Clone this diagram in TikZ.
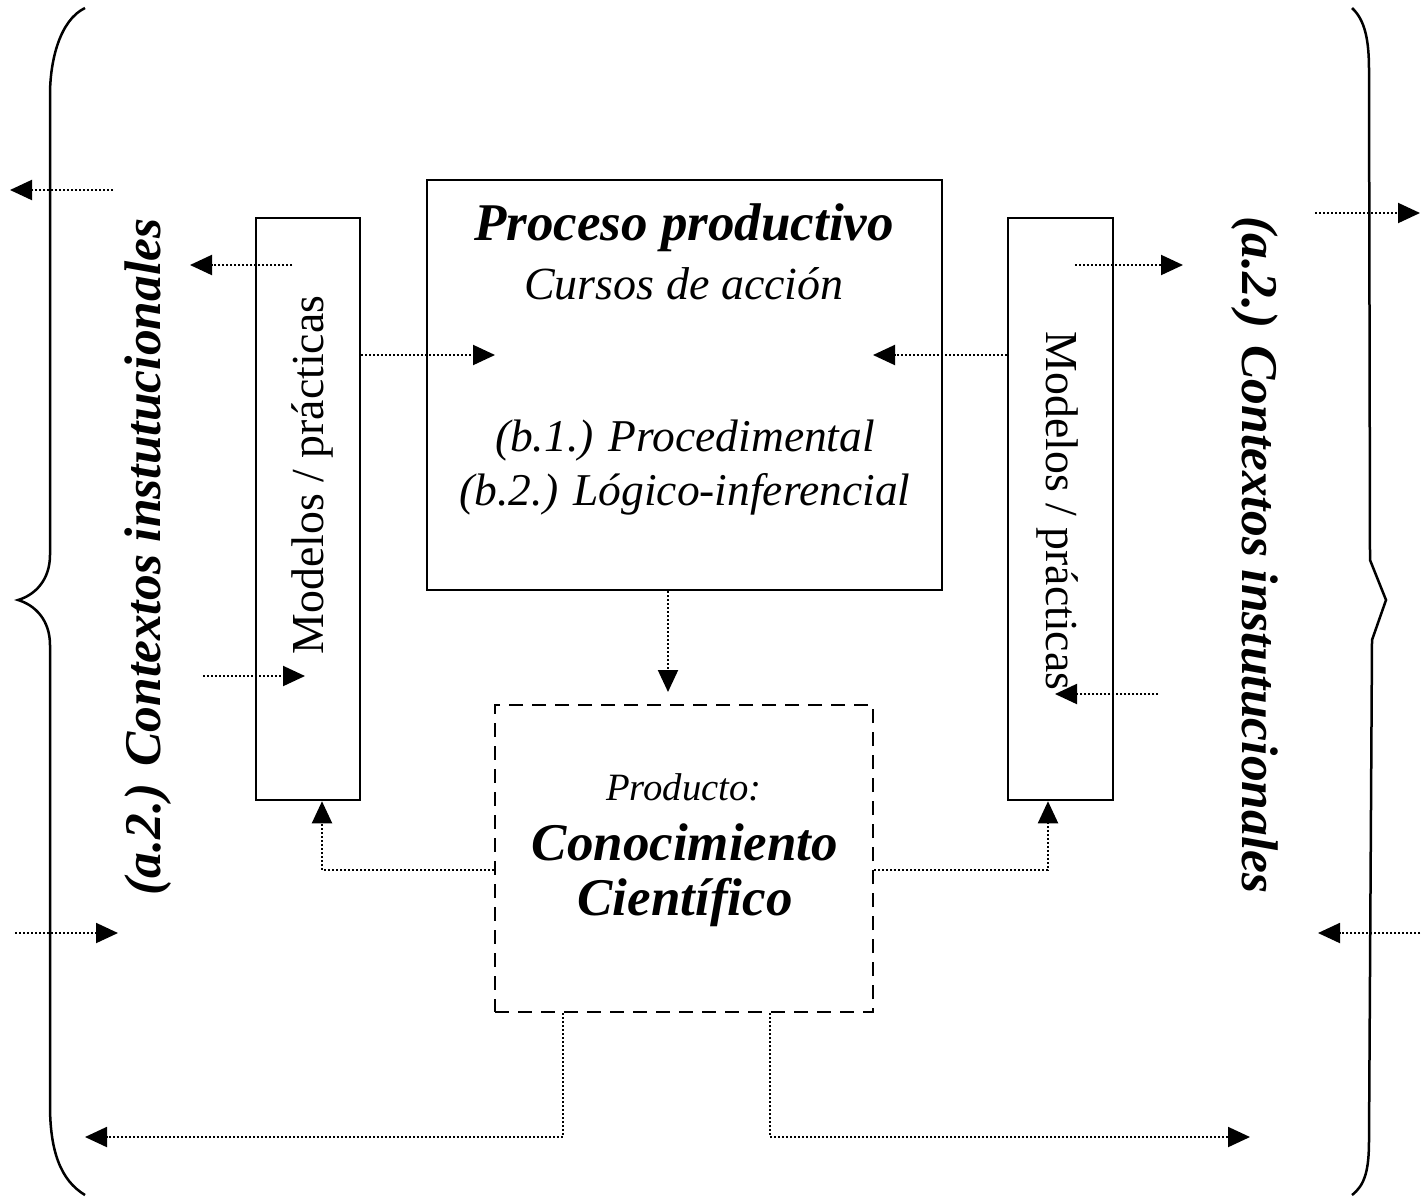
\documentclass[tikz,border=0pt]{standalone}
\usepackage{fontspec}
\setmainfont{Liberation Serif}
\usetikzlibrary{arrows.meta}
\tikzset{
  box/.style={draw, line width=2.5pt, inner sep=0pt},
  conn/.style={line width=2pt, dotted, line cap=butt},
  tip/.style={-{Triangle[length=22pt,width=20pt]}},
  brace/.style={line width=2.5pt},
  itx/.style={font=\fontsize{45.5}{50}\selectfont\itshape},
  bix/.style={font=\fontsize{53}{58}\selectfont\bfseries\itshape},
  mod/.style={font=\fontsize{45.8}{50}\selectfont},
  ctx/.style={font=\fontsize{51.5}{56}\selectfont\bfseries\itshape},
}
\begin{document}
\begin{tikzpicture}[x=1pt,y=-1pt]
\useasboundingbox (0,0) rectangle (1423,1203);
% braces
\draw[brace] (85,8) .. controls (60,20) and (50,60) .. (50,95) -- (50,555)
  .. controls (50,580) and (35,595) .. (18,600)
  .. controls (35,605) and (50,620) .. (50,645) -- (50,1105)
  .. controls (50,1150) and (60,1180) .. (85,1195);
\draw[brace] (1352,8) .. controls (1365,20) and (1369,40) .. (1369,70) -- (1370,560)
  -- (1386,600) -- (1372,640) -- (1369,1140)
  .. controls (1369,1170) and (1365,1185) .. (1352,1195);
% boxes
\node[box, minimum width=104pt, minimum height=582pt] (lbox) at (308,509) {};
\node[box, minimum width=105pt, minimum height=582pt] (rbox) at (1060.5,509) {};
\node[box, minimum width=515pt, minimum height=410pt] (pbox) at (684.5,385) {};
\node[box, dashed, dash pattern=on 14pt off 9pt, minimum width=378pt, minimum height=307pt] (prod) at (684,858.5) {};
% texts
\node[bix] (t1) at (684,228) {Proceso productivo};
\node[itx, font=\fontsize{46}{50}\selectfont\itshape] (t2) at (684,284) {Cursos de acción};
\node[itx] (t3) at (685,441) {(b.1.) Procedimental};
\node[itx] (t4) at (685,494) {(b.2.) Lógico-inferencial};
\node[font=\fontsize{38.7}{44}\selectfont\itshape] (t5) at (684,787) {Producto:};
\node[bix] (t6) at (685,842) {Conocimiento};
\node[bix] (t7) at (685,902) {Científico};
\node[mod, rotate=90] (lm) at (312,475) {Modelos / prácticas};
\node[mod, rotate=-90] (rm) at (1058,511) {Modelos / prácticas};
\node[ctx, rotate=90] (lc) at (148,557) {(a.2.) Contextos instutucionales};
\node[ctx, rotate=-90] (rc) at (1255,555) {(a.2.) Contextos instutucionales};
% coordinates for free ends
\coordinate (a1s) at (113,190); \coordinate (a1e) at (10,190);
\coordinate (a2s) at (15,933); \coordinate (a2e) at (118,933);
\coordinate (a3s) at (1315,213); \coordinate (a3e) at (1420,213);
\coordinate (a4s) at (1420,933); \coordinate (a4e) at (1318,933);
\coordinate (a5s) at (292,265); \coordinate (a5e) at (190,265);
\coordinate (a6e) at (495,355);
\coordinate (a7s) at (203,676); \coordinate (a7e) at (305,676);
\coordinate (a8e) at (873,355);
\coordinate (a9e) at (668,692);
\coordinate (a10s) at (1075,265); \coordinate (a10e) at (1183,265);
\coordinate (a11s) at (1158,694); \coordinate (a11e) at (1055,694);
\coordinate (b1e) at (85,1137); \coordinate (b2e) at (1250,1137);
% connectors
\draw[conn, tip] (a1s) -- (a1e);
\draw[conn, tip] (a2s) -- (a2e);
\draw[conn, tip] (a3s) -- (a3e);
\draw[conn, tip] (a4s) -- (a4e);
\draw[conn, tip] (a5s) -- (a5e);
\draw[conn, tip] (lbox.east |- a6e) -- (a6e);
\draw[conn, tip] (a7s) -- (a7e);
\draw[conn, tip] (rbox.west |- a8e) -- (a8e);
\draw[conn, tip] (pbox.south -| a9e) -- (a9e);
\draw[conn, tip] (a10s) -- (a10e);
\draw[conn, tip] (a11s) -- (a11e);
\draw[conn, tip] (prod.west |- 0,870) -| (lbox.south -| 322,0);
\draw[conn, tip] (prod.east |- 0,870) -| (rbox.south -| 1048,0);
\draw[conn, tip] (prod.south -| 563,0) |- (b1e);
\draw[conn, tip] (prod.south -| 770,0) |- (b2e);
\end{tikzpicture}
\end{document}
